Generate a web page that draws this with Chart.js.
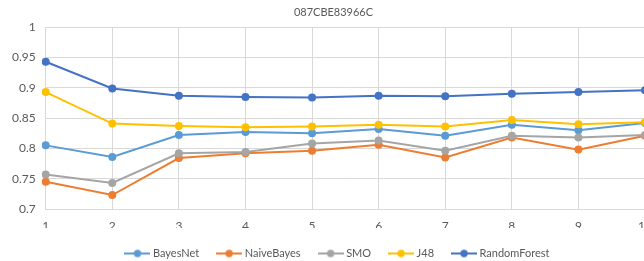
<!DOCTYPE html>
<html>
<head>
<meta charset="utf-8">
<script src="https://cdn.jsdelivr.net/npm/chart.js@4/dist/chart.umd.min.js"></script>
<style>
  html, body { margin: 0; padding: 0; background: #fff; overflow: hidden; }
  #wrap { position: relative; width: 670px; height: 261px; }
</style>
</head>
<body>
<div id="wrap"><canvas id="chart"></canvas></div>
<script>
const chartTitle = '087CBE83966C';
const folds = ['1', '2', '3', '4', '5', '6', '7', '8', '9', '10'];
const yTicks = [0.7, 0.75, 0.8, 0.85, 0.9, 0.95, 1];

const bayesNet = [0.805, 0.786, 0.822, 0.827, 0.825, 0.832, 0.821, 0.839, 0.830, 0.842];
const naiveBayes = [0.745, 0.723, 0.784, 0.792, 0.796, 0.806, 0.785, 0.818, 0.798, 0.821];
const smo = [0.757, 0.743, 0.792, 0.794, 0.808, 0.813, 0.796, 0.821, 0.818, 0.822];
const j48 = [0.893, 0.841, 0.837, 0.835, 0.836, 0.839, 0.836, 0.847, 0.840, 0.843];
const randomForest = [0.943, 0.899, 0.887, 0.885, 0.884, 0.887, 0.886, 0.890, 0.893, 0.896];

const seriesNames = ['BayesNet', 'NaiveBayes', 'SMO', 'J48', 'RandomForest'];
const seriesData = [bayesNet, naiveBayes, smo, j48, randomForest];
const seriesColors = ['#5B9BD5', '#ED7D31', '#A5A5A5', '#FFC000', '#4472C4'];

const textColor = '#595959';
const gridColor = '#D9D9D9';
const family = 'Lato, "Open Sans", sans-serif';
const font = { family, size: 12 };

// legend marker: short line with a dot in the middle, like Excel
function legendMarker(color) {
  const c = document.createElement('canvas');
  c.width = 26;
  c.height = 10;
  const ctx = c.getContext('2d');
  ctx.strokeStyle = color;
  ctx.lineWidth = 2;
  ctx.beginPath();
  ctx.moveTo(0, 5);
  ctx.lineTo(26, 5);
  ctx.stroke();
  ctx.fillStyle = color;
  ctx.beginPath();
  ctx.arc(13, 5, 3.7, 0, Math.PI * 2);
  ctx.fill();
  return c;
}

const datasets = seriesNames.map((name, i) => ({
  label: name,
  data: seriesData[i],
  borderColor: seriesColors[i],
  backgroundColor: seriesColors[i],
  borderWidth: 2,
  pointRadius: 4,
  pointHoverRadius: 4,
  pointBorderWidth: 0,
  tension: 0,
  order: seriesNames.length - i,
  legendMarker: legendMarker(seriesColors[i])
}));

// fixed legend height so it sits close under the axis labels,
// and title/legend nudged right (the original chart is cut off on the right)
const legendHeight = 33;
const titleShift = 10;
const legendShift = 15;
const layoutTweaks = {
  id: 'layoutTweaks',
  afterInit(chart) {
    const fit = chart.legend.fit;
    chart.legend.fit = function () {
      fit.call(this);
      this.height = legendHeight;
    };
  },
  afterLayout(chart) {
    if (chart.titleBlock) {
      chart.titleBlock.left += titleShift;
      chart.titleBlock.right += titleShift;
    }
    if (chart.legend) {
      chart.legend.left += legendShift;
      chart.legend.right += legendShift;
    }
  }
};

new Chart(document.getElementById('chart'), {
  type: 'line',
  data: { labels: folds, datasets },
  plugins: [layoutTweaks],
  options: {
    responsive: true,
    maintainAspectRatio: false,
    animation: false,
    layout: { padding: { left: 2, right: 25, top: 0, bottom: 0 } },
    scales: {
      x: {
        offset: false,
        grid: { color: gridColor, drawTicks: false },
        border: { color: gridColor },
        ticks: { color: textColor, font, padding: 10, maxRotation: 0 },
        afterFit: (scale) => { scale.height = 19; }
      },
      y: {
        min: 0.7,
        max: 1,
        afterBuildTicks: (scale) => { scale.ticks = yTicks.map((v) => ({ value: v })); },
        grid: { color: gridColor, drawTicks: false },
        border: { display: false },
        ticks: {
          color: textColor,
          font,
          padding: 10,
          callback: (v) => String(Number(v.toFixed(2)))
        }
      }
    },
    plugins: {
      title: {
        display: true,
        text: chartTitle,
        color: textColor,
        font: { family, size: 11, weight: 'normal' },
        padding: { top: 6, bottom: 8 }
      },
      legend: {
        position: 'bottom',
        labels: {
          color: textColor,
          font: { family, size: 11 },
          usePointStyle: true,
          pointStyleWidth: 20,
          padding: 20,
          generateLabels: (chart) => chart.data.datasets.map((ds, i) => ({
            text: ds.label,
            fillStyle: ds.borderColor,
            strokeStyle: ds.borderColor,
            fontColor: textColor,
            pointStyle: ds.legendMarker,
            lineWidth: 0,
            hidden: false,
            datasetIndex: i
          })),
          sort: (a, b) => a.datasetIndex - b.datasetIndex
        }
      },
      tooltip: { enabled: false }
    }
  }
});
</script>
</body>
</html>
